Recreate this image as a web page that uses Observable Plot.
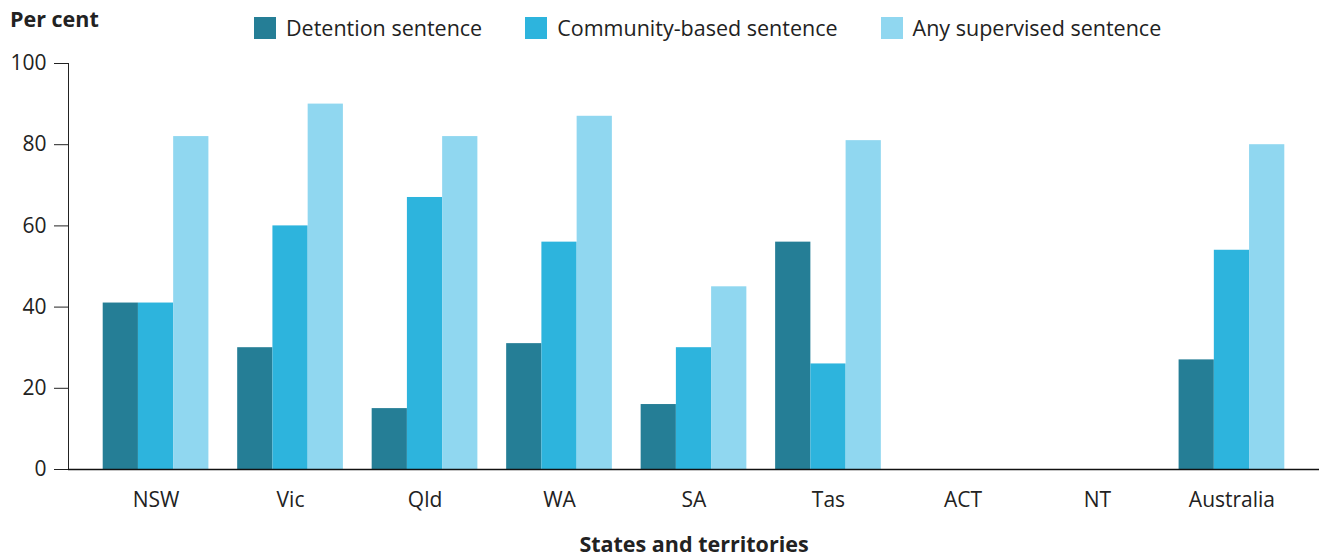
<!DOCTYPE html>
<html>
<head>
<meta charset="utf-8">
<script src="https://cdn.jsdelivr.net/npm/d3@7"></script>
<script src="https://cdn.jsdelivr.net/npm/@observablehq/plot@0.6"></script>
<style>
  html, body { margin: 0; padding: 0; background: #fff; }
  body { font-family: "Open Sans", sans-serif; color: #222; width: 1321px; }
  #header { position: relative; height: 48px; }
  #ylabel { position: absolute; left: 10px; top: 4px; font-size: 21.5px; font-weight: bold; }
  #legend { position: absolute; left: 254px; top: 13px; display: flex; align-items: center; font-size: 21.5px; }
  .item { display: flex; align-items: center; margin-right: 43px; }
  .sw { width: 22px; height: 22px; margin-right: 10px; }
  svg { display: block; }
</style>
</head>
<body>
<div id="header">
  <div id="ylabel">Per cent</div>
  <div id="legend"></div>
</div>
<div id="chart"></div>
<script>
const states = ["NSW", "Vic", "Qld", "WA", "SA", "Tas", "ACT", "NT", "Australia"];
const series = ["Detention sentence", "Community-based sentence", "Any supervised sentence"];
const detention = [41, 30, 15, 31, 16, 56, null, null, 27];
const community = [41, 60, 67, 56, 30, 26, null, null, 54];
const anySupervised = [82, 90, 82, 87, 45, 81, null, null, 80];
const colors = ["#257e96", "#2db4dd", "#90d7f0"];
const yTicks = [0, 20, 40, 60, 80, 100];

const valuesBySeries = [detention, community, anySupervised];
const rows = states.flatMap((s, i) => series.map((k, j) => ({state: s, series: k, value: valuesBySeries[j][i]})));

// legend
const legend = document.getElementById("legend");
series.forEach((s, j) => {
  const it = document.createElement("div");
  it.className = "item";
  const sw = document.createElement("div");
  sw.className = "sw";
  sw.style.background = colors[j];
  const tx = document.createElement("span");
  tx.textContent = s;
  it.appendChild(sw); it.appendChild(tx);
  legend.appendChild(it);
});

const W = 1321, H = 508, mL = 68, mR = 2;
const pInner = 0.738, pOuter = 0.52;
const step = (W - mL - mR) / (states.length - pInner + 2 * pOuter);
const bw = step * (1 - pInner);

const plot = Plot.plot({
  width: W,
  height: H,
  marginLeft: mL,
  marginRight: mR,
  marginTop: 15,
  marginBottom: 87,
  style: {fontFamily: "Open Sans, sans-serif", fontSize: "21px", color: "#222", background: "#fff"},
  x: {domain: states, paddingInner: pInner, paddingOuter: pOuter, round: false, tickSize: 0, tickPadding: 23, label: null},
  y: {domain: [0, 100], ticks: yTicks, tickSize: 14, tickPadding: 8, label: null, line: true},
  color: {domain: series, range: colors},
  marks: [
    ...series.map((k, j) => Plot.barY(rows.filter(d => d.series === k && d.value != null), {
      x: "state", y: "value", fill: "series", dx: (j - 1) * bw
    })),
    Plot.ruleY([0], {stroke: "#111", strokeWidth: 1.5}),
    Plot.text(["States and territories"], {frameAnchor: "bottom", dy: 82, fontWeight: "bold", fontSize: 21.5, fill: "#222"})
  ]
});
document.getElementById("chart").appendChild(plot);
</script>
</body>
</html>
